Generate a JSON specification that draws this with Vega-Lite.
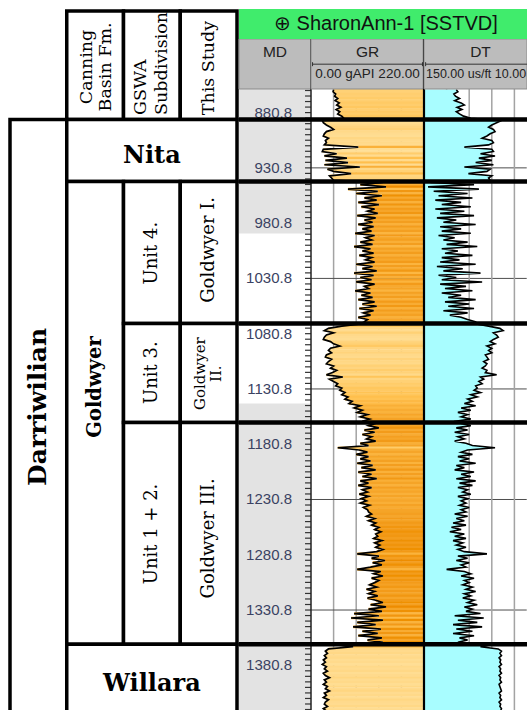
{
"$schema": "https://vega.github.io/schema/vega-lite/v6.json",
"background": "white",
"padding": {"left": 0, "top": 7, "right": 0, "bottom": 0},
"width": 527,
"height": 703,
"config": {"view": {"stroke": null}},
"datasets": {
"log": [
{"d":860,"g":44,"t":110},{"d":862,"g":43,"t":108},{"d":864,"g":48,"t":113},{"d":866,"g":46,"t":111},{"d":868,"g":52,"t":106},{"d":870,"g":47,"t":112},{"d":872,"g":55,"t":104},{"d":874,"g":50,"t":100},{"d":876,"g":58,"t":109},{"d":878,"g":49,"t":103},{"d":880,"g":56,"t":110},{"d":882,"g":52,"t":106},{"d":884,"g":60,"t":101},{"d":886,"g":64,"t":92},
{"d":888,"g":22,"t":54},{"d":890,"g":24,"t":60},{"d":892,"g":30,"t":66},{"d":894,"g":38,"t":70},{"d":896,"g":44,"t":64},{"d":898,"g":30,"t":62},{"d":900,"g":26,"t":68},{"d":902,"g":24,"t":72},{"d":904,"g":34,"t":78},{"d":906,"g":28,"t":66},{"d":908,"g":30,"t":64},{"d":910,"g":26,"t":70},{"d":912,"g":92,"t":100},{"d":914,"g":24,"t":66},{"d":916,"g":22,"t":64},{"d":918,"g":50,"t":80},{"d":920,"g":26,"t":62},{"d":922,"g":70,"t":82},{"d":924,"g":28,"t":66},{"d":926,"g":72,"t":86},{"d":928,"g":26,"t":64},{"d":930,"g":95,"t":100},{"d":932,"g":32,"t":68},{"d":934,"g":44,"t":72},{"d":936,"g":78,"t":95},{"d":938,"g":36,"t":66},{"d":940,"g":40,"t":70},{"d":942,"g":44,"t":68},
{"d":944,"g":140,"t":142},{"d":946,"g":96,"t":88},{"d":948,"g":146,"t":145},{"d":950,"g":72,"t":82},{"d":952,"g":130,"t":138},{"d":954,"g":88,"t":96},{"d":956,"g":138,"t":132},{"d":958,"g":104,"t":90},{"d":960,"g":128,"t":136},{"d":962,"g":92,"t":104},{"d":964,"g":132,"t":128},{"d":966,"g":98,"t":92},{"d":968,"g":124,"t":136},{"d":970,"g":110,"t":100},{"d":972,"g":130,"t":130},{"d":974,"g":90,"t":88},{"d":976,"g":126,"t":134},{"d":978,"g":104,"t":110},{"d":980,"g":120,"t":126},{"d":982,"g":92,"t":86},{"d":984,"g":122,"t":130},{"d":986,"g":100,"t":104},{"d":988,"g":118,"t":128},{"d":990,"g":86,"t":92},{"d":992,"g":124,"t":132},{"d":994,"g":106,"t":112},{"d":996,"g":118,"t":126},{"d":998,"g":96,"t":96},{"d":1000,"g":120,"t":122},{"d":1002,"g":84,"t":84},{"d":1004,"g":116,"t":128},{"d":1006,"g":100,"t":108},{"d":1008,"g":122,"t":124},{"d":1010,"g":94,"t":90},{"d":1012,"g":118,"t":128},{"d":1014,"g":106,"t":106},{"d":1016,"g":124,"t":130},{"d":1018,"g":88,"t":86},{"d":1020,"g":120,"t":134},{"d":1022,"g":100,"t":102},{"d":1024,"g":128,"t":126},{"d":1026,"g":84,"t":80},{"d":1028,"g":122,"t":132},{"d":1030,"g":96,"t":110},{"d":1032,"g":118,"t":128},{"d":1034,"g":88,"t":78},{"d":1036,"g":124,"t":130},{"d":1038,"g":104,"t":98},{"d":1040,"g":112,"t":124},{"d":1042,"g":86,"t":90},{"d":1044,"g":116,"t":128},{"d":1046,"g":98,"t":104},{"d":1048,"g":120,"t":120},{"d":1050,"g":92,"t":86},{"d":1052,"g":124,"t":124},{"d":1054,"g":100,"t":94},{"d":1056,"g":128,"t":120},{"d":1058,"g":94,"t":88},{"d":1060,"g":122,"t":126},{"d":1062,"g":102,"t":96},{"d":1064,"g":116,"t":118},{"d":1066,"g":92,"t":104},{"d":1068,"g":110,"t":96},{"d":1070,"g":104,"t":86},
{"d":1072,"g":96,"t":86},{"d":1074,"g":60,"t":70},{"d":1076,"g":34,"t":56},{"d":1078,"g":26,"t":52},{"d":1080,"g":44,"t":64},{"d":1082,"g":30,"t":60},{"d":1084,"g":26,"t":58},{"d":1086,"g":24,"t":64},{"d":1088,"g":38,"t":68},{"d":1090,"g":44,"t":62},{"d":1092,"g":56,"t":72},{"d":1094,"g":38,"t":66},{"d":1096,"g":34,"t":70},{"d":1098,"g":40,"t":66},{"d":1100,"g":30,"t":74},{"d":1102,"g":28,"t":72},{"d":1104,"g":40,"t":70},{"d":1106,"g":34,"t":76},{"d":1108,"g":30,"t":72},{"d":1110,"g":44,"t":74},{"d":1112,"g":38,"t":78},{"d":1114,"g":50,"t":72},{"d":1116,"g":42,"t":74},{"d":1118,"g":30,"t":60},{"d":1120,"g":62,"t":80},{"d":1122,"g":36,"t":76},{"d":1124,"g":44,"t":82},{"d":1126,"g":52,"t":78},{"d":1128,"g":48,"t":86},{"d":1130,"g":60,"t":84},{"d":1132,"g":56,"t":88},{"d":1134,"g":66,"t":80},{"d":1136,"g":60,"t":92},{"d":1138,"g":72,"t":84},{"d":1140,"g":66,"t":96},{"d":1142,"g":80,"t":90},{"d":1144,"g":74,"t":100},{"d":1146,"g":96,"t":86},{"d":1148,"g":84,"t":104},{"d":1150,"g":100,"t":92},{"d":1152,"g":90,"t":108},{"d":1154,"g":110,"t":96},{"d":1156,"g":96,"t":104},{"d":1158,"g":114,"t":92},{"d":1160,"g":100,"t":110},
{"d":1162,"g":126,"t":104},{"d":1164,"g":112,"t":92},{"d":1166,"g":132,"t":110},{"d":1168,"g":104,"t":96},{"d":1170,"g":124,"t":112},{"d":1172,"g":100,"t":94},{"d":1174,"g":118,"t":108},{"d":1176,"g":108,"t":100},{"d":1178,"g":126,"t":112},{"d":1180,"g":96,"t":98},{"d":1182,"g":112,"t":90},{"d":1184,"g":52,"t":62},{"d":1186,"g":94,"t":96},{"d":1188,"g":110,"t":104},{"d":1190,"g":88,"t":90},{"d":1192,"g":112,"t":108},{"d":1194,"g":96,"t":94},{"d":1196,"g":116,"t":106},{"d":1198,"g":90,"t":86},{"d":1200,"g":120,"t":110},{"d":1202,"g":98,"t":100},{"d":1204,"g":126,"t":112},{"d":1206,"g":92,"t":88},{"d":1208,"g":118,"t":104},{"d":1210,"g":100,"t":92},{"d":1212,"g":128,"t":110},{"d":1214,"g":96,"t":86},{"d":1216,"g":112,"t":106},{"d":1218,"g":92,"t":90},{"d":1220,"g":118,"t":108},{"d":1222,"g":100,"t":96},{"d":1224,"g":110,"t":102},{"d":1226,"g":94,"t":92},{"d":1228,"g":112,"t":108},{"d":1230,"g":98,"t":96},{"d":1232,"g":108,"t":104},{"d":1234,"g":96,"t":98},{"d":1236,"g":114,"t":106},{"d":1238,"g":102,"t":94},{"d":1240,"g":110,"t":104},{"d":1242,"g":112,"t":98},{"d":1244,"g":118,"t":112},{"d":1246,"g":108,"t":96},{"d":1248,"g":124,"t":110},{"d":1250,"g":112,"t":100},{"d":1252,"g":126,"t":114},{"d":1254,"g":118,"t":98},{"d":1256,"g":132,"t":116},{"d":1258,"g":124,"t":104},{"d":1260,"g":136,"t":118},{"d":1262,"g":126,"t":100},{"d":1264,"g":130,"t":112},{"d":1266,"g":122,"t":98},{"d":1268,"g":138,"t":114},{"d":1270,"g":124,"t":102},{"d":1272,"g":134,"t":110},{"d":1274,"g":126,"t":98},{"d":1276,"g":140,"t":108},{"d":1278,"g":128,"t":100},{"d":1280,"g":90,"t":72},{"d":1282,"g":132,"t":108},{"d":1284,"g":118,"t":96},{"d":1286,"g":144,"t":110},{"d":1288,"g":120,"t":94},{"d":1290,"g":138,"t":104},{"d":1292,"g":116,"t":98},{"d":1294,"g":90,"t":122},{"d":1296,"g":136,"t":100},{"d":1298,"g":122,"t":92},{"d":1300,"g":140,"t":104},{"d":1302,"g":118,"t":88},{"d":1304,"g":132,"t":100},{"d":1306,"g":124,"t":94},{"d":1308,"g":114,"t":102},{"d":1310,"g":128,"t":90},{"d":1312,"g":108,"t":98},{"d":1314,"g":124,"t":86},{"d":1316,"g":112,"t":100},{"d":1318,"g":130,"t":92},{"d":1320,"g":110,"t":102},{"d":1322,"g":126,"t":88},{"d":1324,"g":140,"t":96},{"d":1326,"g":116,"t":84},{"d":1328,"g":146,"t":100},{"d":1330,"g":112,"t":90},{"d":1332,"g":138,"t":98},{"d":1334,"g":84,"t":80},{"d":1336,"g":132,"t":112},{"d":1338,"g":78,"t":76},{"d":1340,"g":140,"t":108},{"d":1342,"g":90,"t":84},{"d":1344,"g":126,"t":114},{"d":1346,"g":82,"t":78},{"d":1348,"g":136,"t":110},{"d":1350,"g":100,"t":90},{"d":1352,"g":130,"t":114},{"d":1354,"g":92,"t":88},{"d":1356,"g":138,"t":106},{"d":1358,"g":110,"t":96},{"d":1360,"g":140,"t":108},
{"d":1362,"g":40,"t":64},{"d":1364,"g":82,"t":80},{"d":1366,"g":34,"t":58},{"d":1368,"g":28,"t":54},{"d":1370,"g":32,"t":56},{"d":1372,"g":26,"t":54},{"d":1374,"g":30,"t":57},{"d":1376,"g":24,"t":55},{"d":1378,"g":28,"t":56},{"d":1380,"g":22,"t":54},{"d":1382,"g":30,"t":57},{"d":1384,"g":26,"t":55},{"d":1386,"g":32,"t":56},{"d":1388,"g":24,"t":54},{"d":1390,"g":28,"t":57},{"d":1392,"g":36,"t":55},{"d":1394,"g":26,"t":56},{"d":1396,"g":30,"t":54},{"d":1398,"g":24,"t":57},{"d":1400,"g":32,"t":56},{"d":1402,"g":28,"t":55},{"d":1404,"g":36,"t":54},{"d":1406,"g":26,"t":57},{"d":1408,"g":30,"t":55},{"d":1410,"g":24,"t":56},{"d":1412,"g":34,"t":54},{"d":1414,"g":28,"t":57},{"d":1416,"g":26,"t":55},{"d":1418,"g":32,"t":56},{"d":1420,"g":24,"t":54},{"d":1422,"g":30,"t":55}
],
"tops": [{"top":887.1},{"top":943.2},{"top":1071.6},{"top":1161.1},{"top":1361.8}],
"gridd": [{"gd":930.8},{"gd":1030.8},{"gd":1130.8},{"gd":1230.8},{"gd":1330.8}],
"mdl": [{"md":880.8},{"md":930.8},{"md":980.8},{"md":1030.8},{"md":1080.8},{"md":1130.8},{"md":1180.8},{"md":1230.8},{"md":1280.8},{"md":1330.8},{"md":1380.8}],
"mdt": [{"m":860.8},{"m":865.8},{"m":870.8},{"m":875.8},{"m":880.8},{"m":885.8},{"m":890.8},{"m":895.8},{"m":900.8},{"m":905.8},{"m":910.8},{"m":915.8},{"m":920.8},{"m":925.8},{"m":930.8},{"m":935.8},{"m":940.8},{"m":945.8},{"m":950.8},{"m":955.8},{"m":960.8},{"m":965.8},{"m":970.8},{"m":975.8},{"m":980.8},{"m":985.8},{"m":990.8},{"m":995.8},{"m":1000.8},{"m":1005.8},{"m":1010.8},{"m":1015.8},{"m":1020.8},{"m":1025.8},{"m":1030.8},{"m":1035.8},{"m":1040.8},{"m":1045.8},{"m":1050.8},{"m":1055.8},{"m":1060.8},{"m":1065.8},{"m":1070.8},{"m":1075.8},{"m":1080.8},{"m":1085.8},{"m":1090.8},{"m":1095.8},{"m":1100.8},{"m":1105.8},{"m":1110.8},{"m":1115.8},{"m":1120.8},{"m":1125.8},{"m":1130.8},{"m":1135.8},{"m":1140.8},{"m":1145.8},{"m":1150.8},{"m":1155.8},{"m":1160.8},{"m":1165.8},{"m":1170.8},{"m":1175.8},{"m":1180.8},{"m":1185.8},{"m":1190.8},{"m":1195.8},{"m":1200.8},{"m":1205.8},{"m":1210.8},{"m":1215.8},{"m":1220.8},{"m":1225.8},{"m":1230.8},{"m":1235.8},{"m":1240.8},{"m":1245.8},{"m":1250.8},{"m":1255.8},{"m":1260.8},{"m":1265.8},{"m":1270.8},{"m":1275.8},{"m":1280.8},{"m":1285.8},{"m":1290.8},{"m":1295.8},{"m":1300.8},{"m":1305.8},{"m":1310.8},{"m":1315.8},{"m":1320.8},{"m":1325.8},{"m":1330.8},{"m":1335.8},{"m":1340.8},{"m":1345.8},{"m":1350.8},{"m":1355.8},{"m":1360.8},{"m":1365.8},{"m":1370.8},{"m":1375.8},{"m":1380.8},{"m":1385.8},{"m":1390.8},{"m":1395.8},{"m":1400.8},{"m":1405.8},{"m":1410.8},{"m":1415.8},{"m":1420.8}],
"vgr": [{"v":44},{"v":88},{"v":132},{"v":176}],
"vdt": [{"v":122},{"v":94},{"v":66},{"v":38}],
"cored": [{"top":990.2,"bot":1143.9}],
"hdr": [{"part":"title","top":787.08,"bot":814.22},{"part":"head","top":814.22,"bot":859.45}],
"heads": [{"track":"MD","name":"MD","unit":""},{"track":"GR","name":"GR","unit":"0.00 gAPI 220.00"},{"track":"DT","name":"DT","unit":"150.00 us/ft 10.00"}],
"cells": [
{"c0":1,"c1":2,"top":788.8,"bot":887.1},
{"c0":2,"c1":3,"top":788.8,"bot":887.1},
{"c0":3,"c1":4,"top":788.8,"bot":887.1},
{"c0":0,"c1":1,"top":887.1,"bot":1432},
{"c0":1,"c1":4,"top":887.1,"bot":943.2},
{"c0":1,"c1":2,"top":943.2,"bot":1361.8},
{"c0":2,"c1":3,"top":943.2,"bot":1071.6},
{"c0":3,"c1":4,"top":943.2,"bot":1071.6},
{"c0":2,"c1":3,"top":1071.6,"bot":1161.1},
{"c0":3,"c1":4,"top":1071.6,"bot":1161.1},
{"c0":2,"c1":3,"top":1161.1,"bot":1361.8},
{"c0":3,"c1":4,"top":1161.1,"bot":1361.8},
{"c0":1,"c1":4,"top":1361.8,"bot":1432}
],
"labels": [
{"label":"Canning\nBasin Fm.","col":1.357,"depth":839.5,"style":"head"},
{"label":"This Study","col":3.5,"depth":840.5,"style":"head"},
{"label":"GSWA\nSubdivision","col":2.308,"depth":883.0,"style":"headL"},
{"label":"Darriwilian","col":0.5,"depth":1147,"style":"bigR"},
{"label":"Goldwyer","col":1.5,"depth":1129,"style":"bigG"},
{"label":"Nita","col":2.5,"depth":920,"style":"bigH"},
{"label":"Willara","col":2.5,"depth":1398,"style":"bigH"},
{"label":"Unit 4.","col":2.5,"depth":1008,"style":"unit"},
{"label":"Goldwyer I.","col":3.5,"depth":1005,"style":"unit"},
{"label":"Unit 3.","col":2.5,"depth":1116,"style":"unit"},
{"label":"Goldwyer\nII.","col":3.348,"depth":1117,"style":"unitS"},
{"label":"Unit 1 + 2.","col":2.5,"depth":1262,"style":"unit"},
{"label":"Goldwyer III.","col":3.5,"depth":1266,"style":"unit"}
]
},
"resolve": {"scale": {"x": "independent"}},
"layer": [
{
 "layer": [
  {"data": {"name": "cells"}, "mark": {"type": "rect", "fill": "white", "stroke": "black", "strokeWidth": 3.5, "clip": true},
   "encoding": {
    "x": {"field": "c0", "type": "quantitative", "scale": {"domain": [0, 4], "range": [10, 237], "nice": false, "zero": false, "padding": 0}, "axis": null},
    "x2": {"field": "c1"},
    "y": {"field": "top", "type": "quantitative", "scale": {"domain": [787.08, 1423.05], "reverse": true, "nice": false, "zero": false, "padding": 0}, "axis": null},
    "y2": {"field": "bot"}}},
  {"data": {"name": "labels"}, "transform": [{"filter": "datum.style == 'head'"}],
   "mark": {"type": "text", "angle": 270, "font": "DejaVu Serif", "fontSize": 17.5, "lineBreak": "\n", "lineHeight": 19, "align": "center", "baseline": "middle", "color": "black"},
   "encoding": {"x": {"field": "col", "type": "quantitative", "axis": null}, "y": {"field": "depth", "type": "quantitative", "axis": null}, "text": {"field": "label"}}},
  {"data": {"name": "labels"}, "transform": [{"filter": "datum.style == 'headL'"}],
   "mark": {"type": "text", "angle": 270, "font": "DejaVu Serif", "fontSize": 17.5, "lineBreak": "\n", "lineHeight": 21, "align": "left", "baseline": "middle", "color": "black"},
   "encoding": {"x": {"field": "col", "type": "quantitative", "axis": null}, "y": {"field": "depth", "type": "quantitative", "axis": null}, "text": {"field": "label"}}},
  {"data": {"name": "labels"}, "transform": [{"filter": "datum.style == 'bigR'"}],
   "mark": {"type": "text", "angle": 270, "font": "DejaVu Serif", "fontSize": 25, "fontWeight": "bold", "align": "center", "baseline": "middle", "color": "black"},
   "encoding": {"x": {"field": "col", "type": "quantitative", "axis": null}, "y": {"field": "depth", "type": "quantitative", "axis": null}, "text": {"field": "label"}}},
  {"data": {"name": "labels"}, "transform": [{"filter": "datum.style == 'bigG'"}],
   "mark": {"type": "text", "angle": 270, "font": "DejaVu Serif", "fontSize": 19.5, "fontWeight": "bold", "align": "center", "baseline": "middle", "color": "black"},
   "encoding": {"x": {"field": "col", "type": "quantitative", "axis": null}, "y": {"field": "depth", "type": "quantitative", "axis": null}, "text": {"field": "label"}}},
  {"data": {"name": "labels"}, "transform": [{"filter": "datum.style == 'bigH'"}],
   "mark": {"type": "text", "font": "DejaVu Serif", "fontSize": 24, "fontWeight": "bold", "align": "center", "baseline": "middle", "color": "black"},
   "encoding": {"x": {"field": "col", "type": "quantitative", "axis": null}, "y": {"field": "depth", "type": "quantitative", "axis": null}, "text": {"field": "label"}}},
  {"data": {"name": "labels"}, "transform": [{"filter": "datum.style == 'unit'"}],
   "mark": {"type": "text", "angle": 270, "font": "DejaVu Serif", "fontSize": 18, "align": "center", "baseline": "middle", "color": "black"},
   "encoding": {"x": {"field": "col", "type": "quantitative", "axis": null}, "y": {"field": "depth", "type": "quantitative", "axis": null}, "text": {"field": "label"}}},
  {"data": {"name": "labels"}, "transform": [{"filter": "datum.style == 'unitS'"}],
   "mark": {"type": "text", "angle": 270, "font": "DejaVu Serif", "fontSize": 15, "lineBreak": "\n", "lineHeight": 16, "align": "center", "baseline": "middle", "color": "black"},
   "encoding": {"x": {"field": "col", "type": "quantitative", "axis": null}, "y": {"field": "depth", "type": "quantitative", "axis": null}, "text": {"field": "label"}}}
 ]
},
{
 "layer": [
  {"data": {"values": [{}]}, "mark": {"type": "rect", "fill": "#e3e3e3"},
   "encoding": {"x": {"datum": 0, "type": "quantitative", "scale": {"domain": [0, 1], "range": [239, 311], "nice": false, "zero": false, "padding": 0}, "axis": null}, "x2": {"datum": 1}}},
  {"data": {"name": "cored"}, "mark": {"type": "rect", "fill": "white"},
   "encoding": {"x": {"datum": 0, "type": "quantitative", "axis": null}, "x2": {"datum": 1},
    "y": {"field": "top", "type": "quantitative", "axis": null}, "y2": {"field": "bot"}}},
  {"data": {"name": "mdt"}, "mark": {"type": "rule", "color": "#333", "strokeWidth": 1.2},
   "encoding": {"x": {"datum": 0.917, "type": "quantitative", "axis": null}, "x2": {"datum": 1}, "y": {"field": "m", "type": "quantitative", "axis": null}}},
  {"data": {"name": "mdl"}, "mark": {"type": "text", "font": "Liberation Sans", "fontSize": 15, "color": "#3a4262", "align": "right", "baseline": "middle"},
   "encoding": {"x": {"datum": 0.736, "type": "quantitative", "axis": null}, "y": {"field": "md", "type": "quantitative", "axis": null}, "text": {"field": "md", "type": "quantitative", "format": ".1f"}}},
  {"data": {"name": "hdr"}, "transform": [{"filter": "datum.part == 'head'"}], "mark": {"type": "rect", "fill": "#bcbcbc", "stroke": "#8c8c8c", "strokeWidth": 1},
   "encoding": {"x": {"datum": 0, "type": "quantitative", "axis": null}, "x2": {"datum": 1}, "y": {"field": "top", "type": "quantitative", "axis": null}, "y2": {"field": "bot"}}},
  {"data": {"name": "heads"}, "transform": [{"filter": "datum.track == 'MD'"}], "mark": {"type": "text", "font": "Liberation Sans", "fontSize": 15.5, "color": "#222", "baseline": "middle"},
   "encoding": {"x": {"datum": 0.5, "type": "quantitative", "axis": null}, "y": {"datum": 826, "type": "quantitative", "axis": null}, "text": {"field": "name"}}}
 ]
},
{
 "layer": [
  {"data": {"name": "vgr"}, "mark": {"type": "rule", "color": "#a3a3a3", "strokeWidth": 1.5},
   "encoding": {"x": {"field": "v", "type": "quantitative", "scale": {"domain": [0, 220], "range": [311, 424], "nice": false, "zero": false, "padding": 0}, "axis": null}}},
  {"data": {"name": "gridd"}, "mark": {"type": "rule", "color": "#4d4d4d", "strokeWidth": 1},
   "encoding": {"x": {"datum": 0, "type": "quantitative", "axis": null}, "x2": {"datum": 420}, "y": {"field": "gd", "type": "quantitative", "axis": null}}},
  {"data": {"name": "log"}, "mark": {"type": "bar", "orient": "horizontal", "height": 2.7, "clip": true},
   "encoding": {
    "x": {"field": "g", "type": "quantitative", "axis": null},
    "x2": {"datum": 220},
    "y": {"field": "d", "type": "quantitative", "axis": null},
    "color": {"field": "g", "type": "quantitative", "scale": {"domain": [20, 70, 140], "range": ["#ffdf98", "#ffc04e", "#ef9000"]}, "legend": null}}},
  {"data": {"name": "log"}, "mark": {"type": "line", "color": "black", "strokeWidth": 1.7, "clip": true},
   "encoding": {"x": {"field": "g", "type": "quantitative", "axis": null}, "y": {"field": "d", "type": "quantitative", "axis": null}, "order": {"field": "d"}}},
  {"data": {"values": [{}]}, "mark": {"type": "rule", "color": "#222", "strokeWidth": 1.5},
   "encoding": {"x": {"datum": 0, "type": "quantitative", "axis": null}}},
  {"data": {"name": "hdr"}, "transform": [{"filter": "datum.part == 'head'"}], "mark": {"type": "rect", "fill": "#bcbcbc", "stroke": "#8c8c8c", "strokeWidth": 1},
   "encoding": {"x": {"datum": 0, "type": "quantitative", "axis": null}, "x2": {"datum": 220}, "y": {"field": "top", "type": "quantitative", "axis": null}, "y2": {"field": "bot"}}},
  {"data": {"name": "heads"}, "transform": [{"filter": "datum.track == 'GR'"}], "mark": {"type": "text", "font": "Liberation Sans", "fontSize": 15.5, "color": "#222", "baseline": "middle"},
   "encoding": {"x": {"datum": 110, "type": "quantitative", "axis": null}, "y": {"datum": 826, "type": "quantitative", "axis": null}, "text": {"field": "name"}}},
  {"data": {"name": "heads"}, "transform": [{"filter": "datum.track == 'GR'"}], "mark": {"type": "text", "font": "Liberation Sans", "fontSize": 13.5, "color": "#222", "baseline": "middle"},
   "encoding": {"x": {"datum": 110, "type": "quantitative", "axis": null}, "y": {"datum": 846, "type": "quantitative", "axis": null}, "text": {"field": "unit"}}},
  {"data": {"values": [{}]}, "mark": {"type": "rule", "color": "#333", "strokeWidth": 1},
   "encoding": {"x": {"datum": 3, "type": "quantitative", "axis": null}, "x2": {"datum": 217}, "y": {"datum": 837, "type": "quantitative", "axis": null}}},
  {"data": {"values": [{"v": 3}, {"v": 217}]}, "mark": {"type": "rule", "color": "#333", "strokeWidth": 1},
   "encoding": {"x": {"field": "v", "type": "quantitative", "axis": null}, "y": {"datum": 835.2, "type": "quantitative", "axis": null}, "y2": {"datum": 838.8}}}
 ]
},
{
 "layer": [
  {"data": {"name": "vdt"}, "mark": {"type": "rule", "color": "#a3a3a3", "strokeWidth": 1.5},
   "encoding": {"x": {"field": "v", "type": "quantitative", "scale": {"domain": [150, 22.39], "range": [424, 527], "nice": false, "zero": false, "padding": 0}, "axis": null}}},
  {"data": {"name": "log"}, "mark": {"type": "area", "orient": "horizontal", "color": "#a8fdff", "clip": true},
   "encoding": {
    "x": {"field": "t", "type": "quantitative", "axis": null},
    "x2": {"datum": 150},
    "y": {"field": "d", "type": "quantitative", "axis": null}}},
  {"data": {"name": "log"}, "mark": {"type": "line", "color": "black", "strokeWidth": 1.6, "clip": true},
   "encoding": {"x": {"field": "t", "type": "quantitative", "axis": null}, "y": {"field": "d", "type": "quantitative", "axis": null}, "order": {"field": "d"}}},
  {"data": {"values": [{}]}, "mark": {"type": "rule", "color": "black", "strokeWidth": 2.2},
   "encoding": {"x": {"datum": 150, "type": "quantitative", "axis": null}}},
  {"data": {"name": "hdr"}, "transform": [{"filter": "datum.part == 'head'"}], "mark": {"type": "rect", "fill": "#bcbcbc", "stroke": "#8c8c8c", "strokeWidth": 1},
   "encoding": {"x": {"datum": 150, "type": "quantitative", "axis": null}, "x2": {"datum": 22.39}, "y": {"field": "top", "type": "quantitative", "axis": null}, "y2": {"field": "bot"}}},
  {"data": {"name": "heads"}, "transform": [{"filter": "datum.track == 'DT'"}], "mark": {"type": "text", "font": "Liberation Sans", "fontSize": 15.5, "color": "#222", "baseline": "middle"},
   "encoding": {"x": {"datum": 80, "type": "quantitative", "axis": null}, "y": {"datum": 826, "type": "quantitative", "axis": null}, "text": {"field": "name"}}},
  {"data": {"name": "heads"}, "transform": [{"filter": "datum.track == 'DT'"}], "mark": {"type": "text", "font": "Liberation Sans", "fontSize": 12.5, "color": "#222", "baseline": "middle", "align": "left"},
   "encoding": {"x": {"datum": 147.5, "type": "quantitative", "axis": null}, "y": {"datum": 846, "type": "quantitative", "axis": null}, "text": {"field": "unit"}}},
  {"data": {"values": [{}]}, "mark": {"type": "rule", "color": "#333", "strokeWidth": 1},
   "encoding": {"x": {"datum": 148, "type": "quantitative", "axis": null}, "x2": {"datum": 22.39}, "y": {"datum": 837, "type": "quantitative", "axis": null}}},
  {"data": {"values": [{"v": 148}]}, "mark": {"type": "rule", "color": "#333", "strokeWidth": 1},
   "encoding": {"x": {"field": "v", "type": "quantitative", "axis": null}, "y": {"datum": 835.2, "type": "quantitative", "axis": null}, "y2": {"datum": 838.8}}}
 ]
},
{
 "layer": [
  {"data": {"name": "tops"}, "mark": {"type": "rule", "color": "black", "strokeWidth": 4.5},
   "encoding": {"x": {"datum": 0, "type": "quantitative", "scale": {"domain": [0, 1], "range": [239, 527], "nice": false, "zero": false, "padding": 0}, "axis": null}, "x2": {"datum": 1},
    "y": {"field": "top", "type": "quantitative", "axis": null}}},
  {"data": {"name": "hdr"}, "transform": [{"filter": "datum.part == 'title'"}], "mark": {"type": "rect", "fill": "#40ec6c"},
   "encoding": {"x": {"datum": 0, "type": "quantitative", "axis": null}, "x2": {"datum": 1}, "y": {"field": "top", "type": "quantitative", "axis": null}, "y2": {"field": "bot"}}},
  {"data": {"values": [{"title": "⊕ SharonAnn-1 [SSTVD]"}]}, "mark": {"type": "text", "font": "Liberation Sans", "fontSize": 20, "color": "#111", "baseline": "middle"},
   "encoding": {"x": {"datum": 0.51, "type": "quantitative", "axis": null}, "y": {"datum": 800.6, "type": "quantitative", "axis": null}, "text": {"field": "title"}}}
 ]
}
]
}
